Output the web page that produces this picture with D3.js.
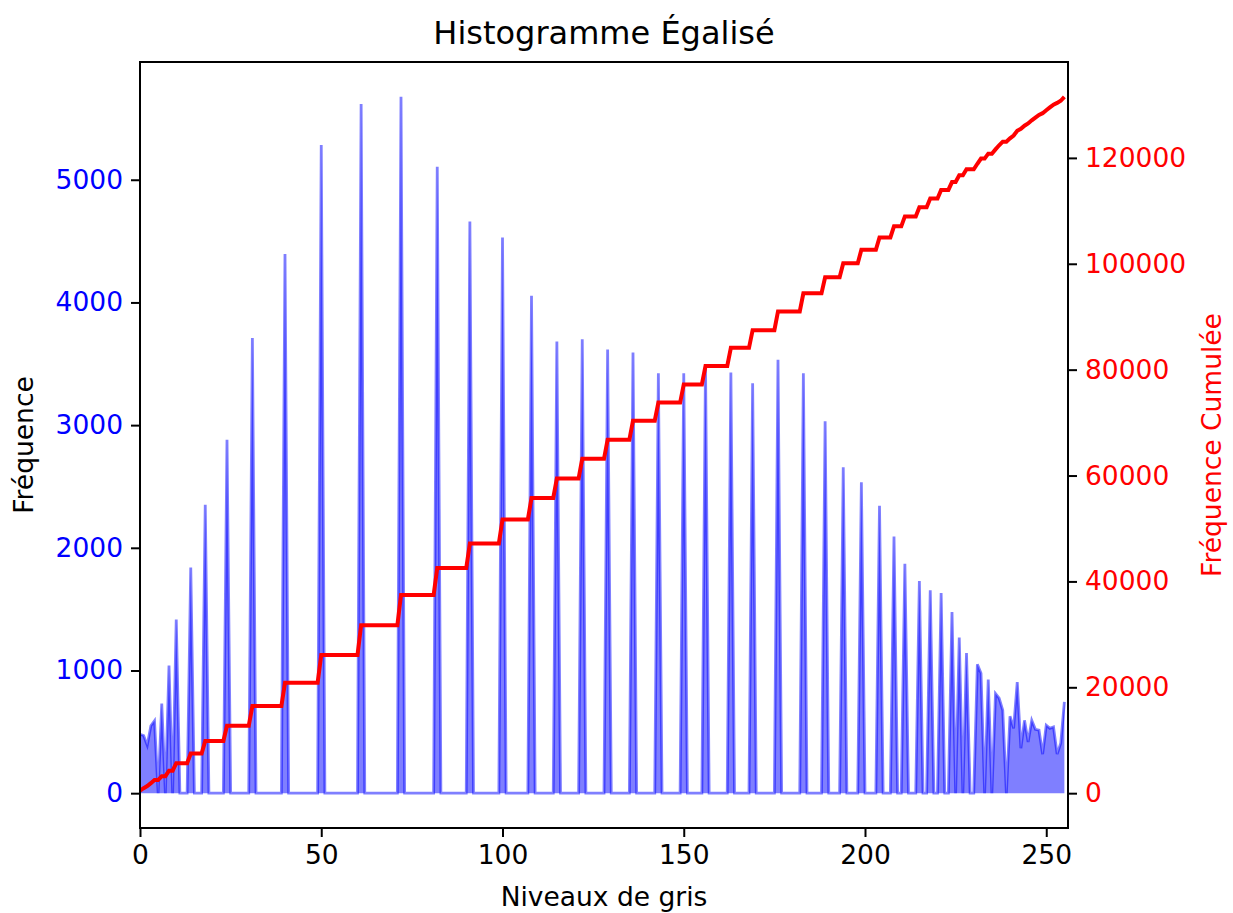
<!DOCTYPE html>
<html>
<head>
<meta charset="utf-8">
<script src="https://cdn.jsdelivr.net/npm/d3@7"></script>
<style>
  body { margin: 0; background: #fff; }
  text { font-family: "DejaVu Sans", sans-serif; }
</style>
</head>
<body>
<script>
// Gray levels 0..255 and the equalized histogram counts
const levels = d3.range(256);
// non-zero bins: [level, count]
const spikes = [
  [0, 480], [1, 470], [2, 390], [3, 550], [4, 590], [6, 730], [8, 1040], [10, 1415],
  [14, 1840], [18, 2350], [24, 2880], [31, 3710], [40, 4395], [50, 5283], [61, 5617],
  [72, 5676], [82, 5106], [91, 4660], [100, 4530], [108, 4055], [115, 3681], [122, 3700],
  [129, 3616], [136, 3591], [143, 3423], [150, 3423], [156, 3490], [163, 3428], [169, 3341],
  [176, 3532], [183, 3423], [189, 3032], [194, 2657], [199, 2535], [204, 2343], [208, 2093],
  [211, 1870], [215, 1729], [218, 1653], [221, 1631], [224, 1476], [226, 1268], [228, 1143],
  [231, 1050], [232, 977], [234, 926], [236, 812], [237, 774], [238, 676],
  [240, 627], [241, 529], [242, 906], [243, 366], [244, 594], [245, 418], [246, 594],
  [247, 520], [248, 513], [249, 318], [250, 554], [251, 529], [252, 540], [253, 318],
  [254, 407], [255, 744]
];
const xTicks = [0, 50, 100, 150, 200, 250];
const yTicks = [0, 1000, 2000, 3000, 4000, 5000];
const cumTicks = [0, 20000, 40000, 60000, 80000, 100000, 120000];

const spikeMap = new Map(spikes);
const hist = levels.map(v => spikeMap.get(v) || 0);
const cum = Array.from(d3.cumsum(hist));

const W = 1233, H = 913;
const margin = { top: 62, right: 165, bottom: 85, left: 140 };
const width = W - margin.left - margin.right,
      height = H - margin.top - margin.bottom;

const svg = d3.select("body").append("svg")
    .attr("width", W)
    .attr("height", H);

const g = svg.append("g")
    .attr("transform", "translate(" + margin.left + "," + margin.top + ")");

// Scales (matplotlib-like 5% margins on y)
const x = d3.scaleLinear().domain([0, 256]).range([0, width]);
const hMax = d3.max(hist);
const y = d3.scaleLinear().domain([-0.05 * hMax, 1.05 * hMax]).range([height, 0]);
const cMax = d3.max(cum);
const yc = d3.scaleLinear().domain([-0.05 * cMax, 1.05 * cMax]).range([height, 0]);

g.append("clipPath").attr("id", "clip")
  .append("rect").attr("width", width).attr("height", height);

const plot = g.append("g").attr("clip-path", "url(#clip)");

// Histogram fill + line
plot.append("path")
    .datum(hist)
    .attr("d", d3.area().x((d, i) => x(i)).y0(y(0)).y1(d => y(d)))
    .style("fill", "blue")
    .style("fill-opacity", 0.5);

plot.append("path")
    .datum(hist)
    .attr("d", d3.line().x((d, i) => x(i)).y(d => y(d)))
    .style("fill", "none")
    .style("stroke", "blue")
    .style("stroke-opacity", 0.5)
    .style("stroke-width", 2.8);

// Cumulative line
plot.append("path")
    .datum(cum)
    .attr("d", d3.line().x((d, i) => x(i)).y(d => yc(d)))
    .style("fill", "none")
    .style("stroke", "red")
    .style("stroke-width", 4);

// Axes
const tickSize = 9, tickPad = 8, fs = "26.5px", fmt = d3.format("d");

const xAxis = g.append("g")
    .attr("transform", "translate(0," + height + ")")
    .call(d3.axisBottom(x).tickValues(xTicks).tickFormat(fmt).tickSize(tickSize).tickPadding(tickPad));
xAxis.selectAll("text").style("font-size", fs).style("fill", "#000");

const yAxis = g.append("g")
    .call(d3.axisLeft(y).tickValues(yTicks).tickFormat(fmt).tickSize(tickSize).tickPadding(tickPad));
yAxis.selectAll("text").style("font-size", fs).style("fill", "blue");

const cAxis = g.append("g")
    .attr("transform", "translate(" + width + ",0)")
    .call(d3.axisRight(yc).tickValues(cumTicks).tickFormat(fmt).tickSize(tickSize).tickPadding(tickPad));
cAxis.selectAll("text").style("font-size", fs).style("fill", "red");

[xAxis, yAxis, cAxis].forEach(a => {
  a.select(".domain").remove();
  a.selectAll("line").style("stroke", "#000").style("stroke-width", 2);
});

// Frame
g.append("rect")
    .attr("width", width).attr("height", height)
    .style("fill", "none").style("stroke", "#000").style("stroke-width", 2);

// Labels
svg.append("text")
    .attr("x", margin.left + width / 2).attr("y", 44)
    .attr("text-anchor", "middle")
    .style("font-size", "32px")
    .text("Histogramme Égalisé");

svg.append("text")
    .attr("x", margin.left + width / 2).attr("y", 906)
    .attr("text-anchor", "middle")
    .style("font-size", fs)
    .text("Niveaux de gris");

svg.append("text")
    .attr("transform", "translate(33," + (margin.top + height / 2) + ") rotate(-90)")
    .attr("text-anchor", "middle")
    .style("font-size", fs)
    .text("Fréquence");

svg.append("text")
    .attr("transform", "translate(1221," + (margin.top + height / 2) + ") rotate(-90)")
    .attr("text-anchor", "middle")
    .style("font-size", fs)
    .style("fill", "red")
    .text("Fréquence Cumulée");
</script>
</body>
</html>
